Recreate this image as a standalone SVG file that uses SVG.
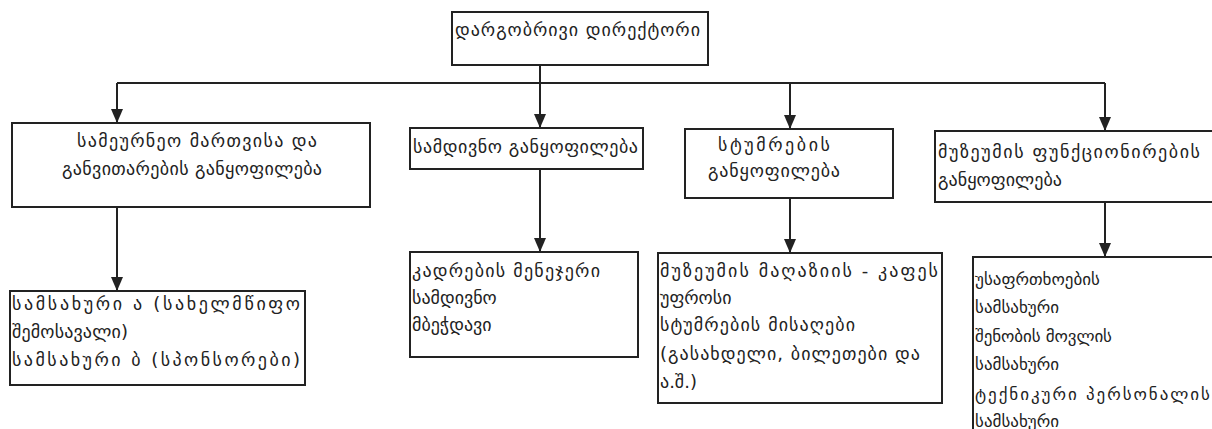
<svg xmlns="http://www.w3.org/2000/svg" width="1212" height="429" viewBox="0 0 1212 429">
<style>
.box{fill:#fff;stroke:#222;stroke-width:2}
.t{font-family:"DejaVu Sans","Noto Sans",sans-serif;font-size:18px;fill:#222}
.s{font-size:17px}
.ln{fill:none;stroke:#222;stroke-width:2}
</style>
<defs>
<marker id="ah" markerWidth="14" markerHeight="12" refX="14" refY="6" orient="auto" markerUnits="userSpaceOnUse" viewBox="0 0 14 12">
<path d="M0,0 L14,6 L0,12 Z" fill="#222"/>
</marker>
</defs>
<rect width="1212" height="429" fill="#fff"/>
<g id="connectors">
<path class="ln" d="M540,65 V83"/>
<path class="ln" d="M117,83 H1105"/>
<path class="ln" d="M117,83 V123" marker-end="url(#ah)"/>
<path class="ln" d="M540,83 V128" marker-end="url(#ah)"/>
<path class="ln" d="M790,83 V129" marker-end="url(#ah)"/>
<path class="ln" d="M1105,83 V131" marker-end="url(#ah)"/>
<path class="ln" d="M117,207 V291" marker-end="url(#ah)"/>
<path class="ln" d="M540,169 V252" marker-end="url(#ah)"/>
<path class="ln" d="M790,198 V253" marker-end="url(#ah)"/>
<path class="ln" d="M1105,202 V257" marker-end="url(#ah)"/>
</g>
<g id="director">
<rect class="box" x="452" y="12" width="256" height="53"/>
<text class="t" x="455" y="36" textLength="245" lengthAdjust="spacing">დარგობრივი დირექტორი</text>
</g>
<g id="dept1">
<rect class="box" x="12" y="123" width="358" height="84"/>
<text class="t" x="77" y="147" textLength="240" lengthAdjust="spacing">სამეურნეო მართვისა და</text>
<text class="t" x="62" y="175" textLength="260" lengthAdjust="spacing">განვითარების განყოფილება</text>
</g>
<g id="dept2">
<rect class="box" x="410" y="128" width="233" height="41"/>
<text class="t" x="413" y="153" textLength="225" lengthAdjust="spacing">სამდივნო განყოფილება</text>
</g>
<g id="dept3">
<rect class="box" x="685" y="129" width="208" height="69"/>
<text class="t" x="718" y="151" textLength="112" lengthAdjust="spacing">სტუმრების</text>
<text class="t" x="708" y="177" textLength="132" lengthAdjust="spacing">განყოფილება</text>
</g>
<g id="dept4">
<rect class="box" x="935" y="131" width="290" height="71"/>
<text class="t" x="938" y="158" textLength="262" lengthAdjust="spacing">მუზეუმის ფუნქციონირების</text>
<text class="t" x="938" y="186" textLength="124" lengthAdjust="spacing">განყოფილება</text>
</g>
<g id="unit1">
<rect class="box" x="10" y="291" width="295" height="94"/>
<text class="t" x="12" y="310" textLength="288" lengthAdjust="spacing">სამსახური ა (სახელმწიფო</text>
<text class="t" x="12" y="338" textLength="116" lengthAdjust="spacing">შემოსავალი)</text>
<text class="t" x="12" y="366" textLength="288" lengthAdjust="spacing">სამსახური ბ (სპონსორები)</text>
</g>
<g id="unit2">
<rect class="box" x="410" y="252" width="228" height="105"/>
<text class="t" x="412" y="277" textLength="188" lengthAdjust="spacing">კადრების მენეჯერი</text>
<text class="t" x="412" y="304">სამდივნო</text>
<text class="t" x="412" y="331">მბეჭდავი</text>
</g>
<g id="unit3">
<rect class="box" x="658" y="253" width="284" height="150"/>
<text class="t" x="660" y="277" textLength="278" lengthAdjust="spacing">მუზეუმის მაღაზიის - კაფეს</text>
<text class="t" x="660" y="304">უფროსი</text>
<text class="t" x="660" y="331" textLength="195" lengthAdjust="spacing">სტუმრების მისაღები</text>
<text class="t" x="660" y="360" textLength="260" lengthAdjust="spacing">(გასახდელი, ბილეთები და</text>
<text class="t" x="660" y="388">ა.შ.)</text>
</g>
<g id="unit4">
<rect class="box" x="973" y="257" width="260" height="190"/>
<text class="t s" x="975" y="285">უსაფრთხოების</text>
<text class="t s" x="975" y="313">სამსახური</text>
<text class="t s" x="975" y="342" textLength="137" lengthAdjust="spacing">შენობის მოვლის</text>
<text class="t s" x="975" y="370">სამსახური</text>
<text class="t s" x="975" y="400" textLength="235" lengthAdjust="spacing">ტექნიკური პერსონალის</text>
<text class="t s" x="975" y="427">სამსახური</text>
</g>
</svg>
